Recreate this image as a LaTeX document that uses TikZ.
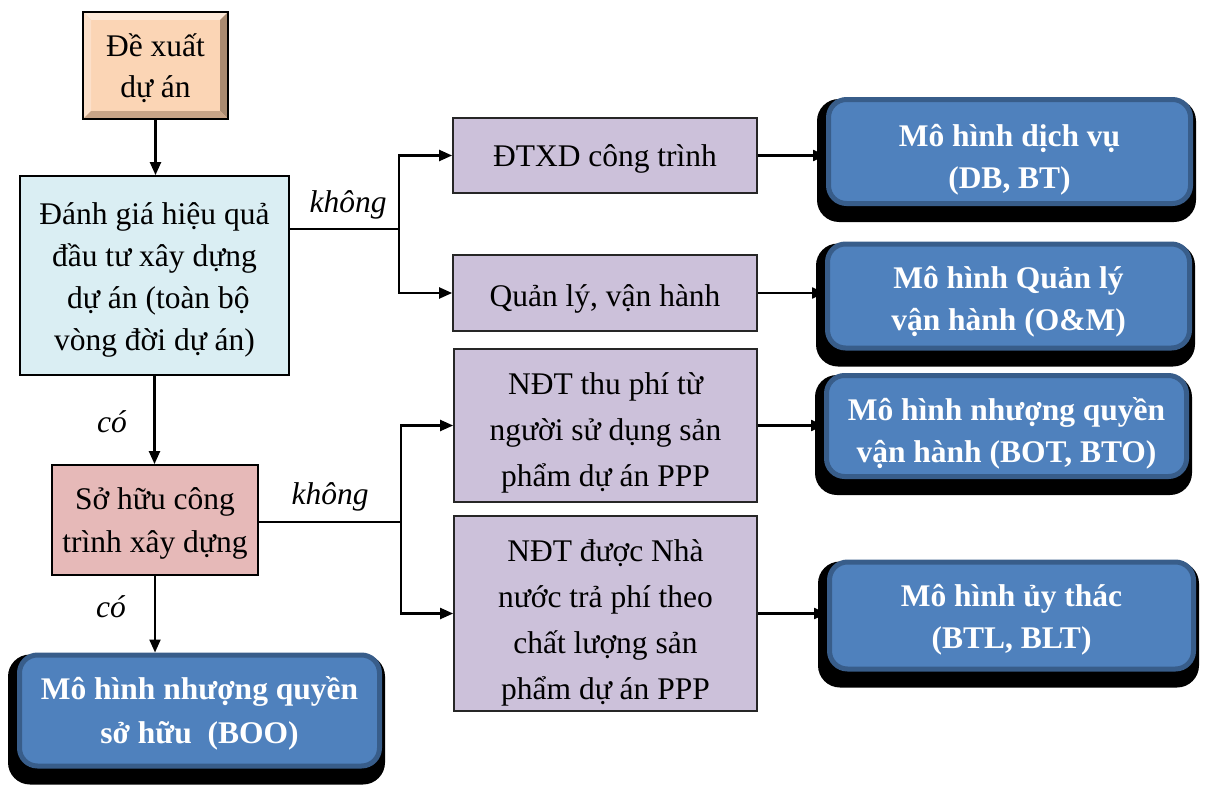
\documentclass[tikz,border=0pt]{standalone}
\usepackage{fontspec}
\setmainfont{Liberation Serif}
\usetikzlibrary{arrows.meta,backgrounds}
\definecolor{tanfill}{HTML}{FBD5B5}
\definecolor{bevtop}{HTML}{FDE9D9}
\definecolor{bevleft}{HTML}{FCE0CA}
\definecolor{bevright}{HTML}{A98A70}
\definecolor{bevbottom}{HTML}{C9A588}
\definecolor{aquafill}{HTML}{DAEEF3}
\definecolor{rosefill}{HTML}{E6B9B8}
\definecolor{lilacfill}{HTML}{CCC1DA}
\definecolor{modelblue}{HTML}{4F81BD}
\definecolor{modeledge}{HTML}{385D8A}
% struts fixing the top of the first line and the bottom of the last line
\newcommand\linetop{\rule{0pt}{44pt}}
\newcommand\linebot[1]{\rule[-#1pt]{0pt}{#1pt}}
\begin{document}
\begin{tikzpicture}[x=1pt,y=-1pt,
  flowbox/.style={draw=black, line width=1.8pt, align=center, inner sep=0pt,
    font=\fontsize{31.5}{42}\selectfont},
  evalbox/.style={flowbox, fill=aquafill},
  ownbox/.style={flowbox, fill=rosefill, font=\fontsize{31.5}{43}\selectfont},
  optbox/.style={flowbox, fill=lilacfill, draw=black!85,
    font=\fontsize{31.5}{46}\selectfont},
  modelbox/.style={fill=modelblue, draw=modeledge, line width=5pt,
    rounded corners=18pt, align=center, inner sep=0pt, text=white,
    font=\fontsize{31.5}{42}\selectfont\bfseries},
  link/.style={line width=2.2pt, -{Triangle[length=13pt,width=11pt]}},
  plainlink/.style={line width=2.2pt},
  answer/.style={font=\fontsize{31.5}{42}\selectfont\itshape, inner sep=0pt}
]
\useasboundingbox (0,0) rectangle (1206,784);

% proposal box with bevelled frame
\node[fill=tanfill, outer sep=0pt, minimum width=145pt, minimum height=105pt,
      align=center, inner sep=0pt, font=\fontsize{31.5}{41}\selectfont]
      (dx) at (155.5,65.5) {\linetop Đề xuất\\dự án\linebot{22}};
\fill[bevtop] (dx.north west) -- (dx.north east) -- ([shift={(-8pt,-8pt)}]dx.north east)
  -- ([shift={(8pt,-8pt)}]dx.north west) -- cycle;
\fill[bevleft] (dx.north west) -- ([shift={(8pt,-8pt)}]dx.north west)
  -- ([shift={(8pt,8pt)}]dx.south west) -- (dx.south west) -- cycle;
\fill[bevright] (dx.north east) -- (dx.south east) -- ([shift={(-8pt,8pt)}]dx.south east)
  -- ([shift={(-8pt,-8pt)}]dx.north east) -- cycle;
\fill[bevbottom] (dx.south west) -- ([shift={(8pt,8pt)}]dx.south west)
  -- ([shift={(-8pt,8pt)}]dx.south east) -- (dx.south east) -- cycle;
\draw[line width=2pt] (dx.north west) rectangle (dx.south east);

% decision boxes
\node[evalbox, minimum width=269pt, minimum height=199pt] (lb) at (154.5,275.5)
  {\linetop Đánh giá hiệu quả\\đầu tư xây dựng\\\ dự án (toàn bộ\\vòng đời dự án)\linebot{21}};
\node[ownbox, minimum width=206pt, minimum height=104pt] (pk) at (155,520)
  {\linetop Sở hữu công\\trình xây dựng\linebot{23}};

% option boxes
\node[optbox, minimum width=304pt, minimum height=75pt] (p1) at (605,155.5)
  {\linetop ĐTXD công trình\linebot{23}};
\node[optbox, minimum width=304pt, minimum height=76pt] (p2) at (605,293)
  {\linetop Quản lý, vận hành\linebot{18}};
\node[optbox, minimum width=303pt, minimum height=153pt] (p3) at (605.5,425.5)
  {\linetop NĐT thu phí từ\\người sử dụng sản\\phẩm dự án PPP\linebot{15}};
\node[optbox, minimum width=303pt, minimum height=195pt] (p4) at (605.5,613.5)
  {\linetop NĐT được Nhà\\nước trả phí theo\\chất lượng sản\\phẩm dự án PPP\linebot{11}};

% model boxes
\node[modelbox, minimum width=362pt, minimum height=104pt] (b1) at (1009.5,151.5)
  {\linetop Mô hình dịch vụ\\(DB, BT)\linebot{13}};
\node[modelbox, minimum width=362pt, minimum height=104pt] (b2) at (1008.5,296)
  {\linetop Mô hình Quản lý\\vận hành (O\&M)\linebot{18}};
\node[modelbox, minimum width=360pt, minimum height=101pt] (b3) at (1006.5,426)
  {\linetop Mô hình nhượng quyền\\vận hành (BOT, BTO)\linebot{14}};
\node[modelbox, minimum width=364pt, minimum height=104pt] (b4) at (1011.5,615.5)
  {\linetop Mô hình ủy thác\\(BTL, BLT)\linebot{21}};
\node[modelbox, minimum width=360pt, minimum height=110pt,
      font=\fontsize{31.5}{44}\selectfont\bfseries] (boo) at (199.5,710.5)
  {\linetop Mô hình nhượng quyền\\sở hữu\ \ (BOO)\linebot{23}};

% hard drop shadows behind the model boxes
\begin{scope}[on background layer]
  \foreach \b in {b1,b2,b3,b4,boo}
    \fill[black, rounded corners=22pt] ([shift={(-9pt,-2pt)}]\b.north west)
      rectangle ([shift={(3pt,-16pt)}]\b.south east);
\end{scope}

% branching points
\coordinate (j1) at (399,229);
\coordinate (j2) at (401,522);

% connectors
\draw[link] (dx.south) -- (dx.south |- lb.north);
\draw[plainlink] (lb.east |- j1) -- (j1);
\draw[link] (j1) |- (p1.west);
\draw[link] (j1) |- (p2.west);
\draw[link] (lb.south) -- (lb.south |- pk.north);
\draw[plainlink] (pk.east |- j2) -- (j2);
\draw[link] (j2) |- (p3.west);
\draw[link] (j2) |- (p4.west);
\draw[link] (pk.south) -- (pk.south |- boo.north);
\draw[link] (p1.east) -- (p1.east -| b1.west);
\draw[link] (p2.east) -- (p2.east -| b2.west);
\draw[link] (p3.east) -- (p3.east -| b3.west);
\draw[link] (p4.east) -- (p4.east -| b4.west);

% branch labels
\node[answer] (k1) at (348,205) {không};
\node[answer] (c1) at (112,422) {có};
\node[answer] (k2) at (330,497) {không};
\node[answer] (c2) at (111,607) {có};
\end{tikzpicture}
\end{document}
